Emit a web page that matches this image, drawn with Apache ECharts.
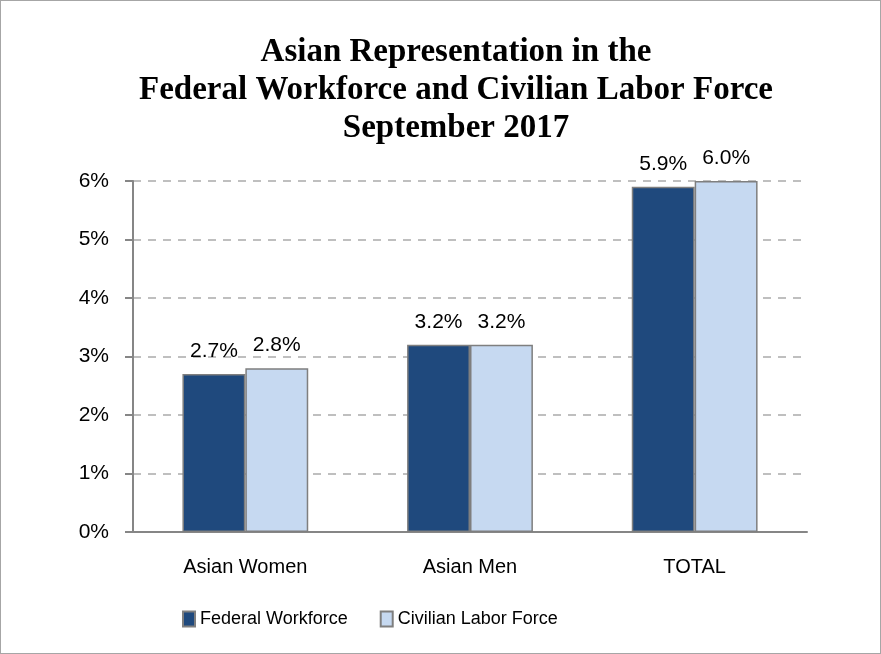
<!DOCTYPE html>
<html>
<head>
<meta charset="utf-8">
<script src="https://cdn.jsdelivr.net/npm/echarts@6/dist/echarts.min.js"></script>
<style>
  html, body { margin: 0; padding: 0; background: #fff; }
  #chart { width: 879px; height: 652px; border: 1px solid #a6a6a6; }
</style>
</head>
<body>
<div id="chart"></div>
<script>
  const categories = ['Asian Women', 'Asian Men', 'TOTAL']
  const federalWorkforce = [2.7, 3.2, 5.9]
  const civilianLaborForce = [2.8, 3.2, 6.0]
  const seriesNames = ['Federal Workforce', 'Civilian Labor Force']
  const titleLines = ['Asian Representation in the', 'Federal Workforce and Civilian Labor Force', 'September 2017']

  const labelFont = 'Liberation Sans'

  const chart = echarts.init(document.getElementById('chart'))

  const barSeries = function(name, data, color) {
    return {
      name: name,
      type: 'bar',
      data: data,
      barWidth: '28%',
      barGap: '0%',
      itemStyle: { color: color, borderColor: '#7f7f7f', borderWidth: 1.5 },
      label: {
        show: true,
        position: 'top',
        distance: 12,
        color: '#000',
        fontFamily: labelFont,
        fontSize: 21,
        formatter: function(p) { return p.value.toFixed(1) + '%' }
      }
    }
  }

  chart.setOption({
    animation: false,
    title: {
      text: titleLines.join('\n'),
      left: 450,
      textAlign: 'center',
      top: 27,
      textStyle: {
        fontFamily: 'Liberation Serif',
        fontWeight: 'bold',
        fontSize: 33,
        lineHeight: 38,
        color: '#000'
      }
    },
    legend: {
      bottom: 20,
      left: 176,
      itemWidth: 12,
      itemHeight: 15,
      itemGap: 32,
      icon: 'rect',
      textStyle: { fontFamily: labelFont, fontSize: 18, color: '#000' },
      data: seriesNames
    },
    grid: {
      left: 132,
      right: 73,
      top: 180,
      bottom: 121
    },
    xAxis: {
      type: 'category',
      data: categories,
      axisLine: { lineStyle: { color: '#868686', width: 2 } },
      axisTick: { show: false },
      axisLabel: { color: '#000', fontFamily: labelFont, fontSize: 20, margin: 25 }
    },
    yAxis: {
      type: 'value',
      min: 0,
      max: 6,
      interval: 1,
      axisLine: { show: true, lineStyle: { color: '#868686', width: 2 } },
      axisTick: { show: true, length: 8, lineStyle: { color: '#868686', width: 2 } },
      axisLabel: {
        color: '#000',
        fontFamily: labelFont,
        fontSize: 21,
        margin: 24,
        formatter: '{value}%'
      },
      splitLine: { lineStyle: { color: '#bfbfbf', type: [8, 7], width: 2 } }
    },
    series: [
      barSeries(seriesNames[0], federalWorkforce, '#1f497d'),
      barSeries(seriesNames[1], civilianLaborForce, '#c6d9f1')
    ]
  })
</script>
</body>
</html>
